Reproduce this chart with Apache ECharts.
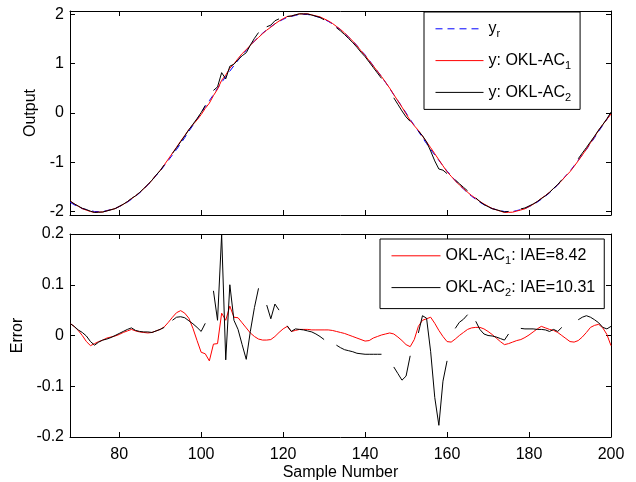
<!DOCTYPE html>
<html>
<head>
<meta charset="utf-8">
<script src="https://cdn.jsdelivr.net/npm/echarts@6/dist/echarts.min.js"></script>
<style>
html,body{margin:0;padding:0;background:#fff}
#chart{width:636px;height:482px}
</style>
</head>
<body>
<div id="chart"></div>
<script>
// sample range shown on both plots
const firstSample = 68
const lastSample = 200
const xTicks = [80, 100, 120, 140, 160, 180, 200]
const outTicks = [-2, -1, 0, 1, 2]
const errTicks = [-0.2, -0.1, 0, 0.1, 0.2]

// reference output y_r, one value per sample (68..200)
const yr = [
  -1.81,-1.86,-1.90,-1.94,-1.96,-1.98,-2.00,-2.00,-2.00,-1.98,
  -1.96,-1.94,-1.90,-1.86,-1.81,-1.75,-1.69,-1.62,-1.54,-1.46,
  -1.37,-1.27,-1.18,-1.07,-0.96,-0.85,-0.74,-0.62,-0.50,-0.37,
  -0.25,-0.13,0.00,0.13,0.25,0.37,0.50,0.62,0.74,0.85,
  0.96,1.07,1.18,1.27,1.37,1.46,1.54,1.62,1.69,1.75,
  1.81,1.86,1.90,1.94,1.96,1.98,2.00,2.00,2.00,1.98,
  1.96,1.94,1.90,1.86,1.81,1.75,1.69,1.62,1.54,1.46,
  1.37,1.27,1.18,1.07,0.96,0.85,0.74,0.62,0.50,0.37,
  0.25,0.13,0.00,-0.13,-0.25,-0.37,-0.50,-0.62,-0.74,-0.85,
  -0.96,-1.07,-1.18,-1.27,-1.37,-1.46,-1.54,-1.62,-1.69,-1.75,
  -1.81,-1.86,-1.90,-1.94,-1.96,-1.98,-2.00,-2.00,-2.00,-1.98,
  -1.96,-1.94,-1.90,-1.86,-1.81,-1.75,-1.69,-1.62,-1.54,-1.46,
  -1.37,-1.27,-1.18,-1.07,-0.96,-0.85,-0.74,-0.62,-0.50,-0.37,
  -0.25,-0.13,0.00
]

// tracking error of OKL-AC1
const e1 = [
  0.024,0.018,0.010,0.000,-0.012,-0.020,-0.016,-0.012,-0.009,-0.005,
  -0.003,-0.001,0.002,0.006,0.009,0.012,0.009,0.007,0.006,0.005,
  0.006,0.009,0.012,0.017,0.026,0.036,0.045,0.049,0.044,0.034,
  0.014,-0.010,-0.033,-0.036,-0.050,-0.017,-0.016,0.044,0.030,0.058,
  0.036,0.035,0.025,0.015,0.005,-0.002,-0.007,-0.009,-0.009,-0.008,
  -0.002,0.006,0.013,0.018,0.008,0.010,0.012,0.012,0.012,0.011,
  0.011,0.011,0.011,0.011,0.010,0.008,0.006,0.004,0.001,-0.002,
  -0.005,-0.008,-0.011,-0.010,-0.005,-0.002,0.001,0.003,0.005,0.003,
  -0.003,-0.010,-0.018,-0.022,-0.008,0.018,0.030,0.033,0.036,0.024,
  0.010,-0.002,-0.012,-0.013,-0.007,0.000,0.006,0.012,0.015,0.016,
  0.016,0.013,0.008,0.002,-0.005,-0.012,-0.018,-0.016,-0.013,-0.010,
  -0.008,-0.004,0.001,0.007,0.013,0.018,0.015,0.012,0.010,0.006,
  0.000,-0.006,-0.012,-0.013,-0.010,-0.003,0.006,0.016,0.020,0.022,
  0.015,0.002,-0.020
]

// tracking error of OKL-AC2 (null = missing sample, line breaks there)
const e2 = [
  0.024,0.018,0.011,0.006,-0.001,-0.012,-0.019,-0.013,-0.009,-0.007,
  -0.004,0.000,0.004,0.008,0.012,0.015,0.010,0.008,0.007,0.007,
  0.006,0.009,0.012,0.016,null,0.030,0.036,0.037,0.035,0.029,
  0.023,0.016,0.008,0.024,null,0.088,0.030,0.199,-0.048,0.100,
  0.030,0.012,-0.018,-0.047,0.008,0.055,0.093,null,0.060,0.033,
  0.062,0.050,null,0.019,0.008,0.013,0.012,0.011,0.009,0.007,
  0.003,-0.002,-0.008,null,null,-0.019,-0.024,-0.028,-0.030,-0.032,
  -0.035,-0.036,-0.037,-0.037,-0.037,-0.037,-0.037,null,null,-0.062,
  -0.075,-0.088,-0.080,-0.040,null,0.005,0.039,0.034,-0.032,-0.122,
  -0.177,-0.090,-0.050,null,0.014,0.026,0.032,0.041,null,0.028,
  0.012,0.003,0.000,-0.001,-0.003,-0.006,-0.009,0.003,null,null,
  0.014,0.013,0.013,0.013,0.012,0.012,0.011,0.008,0.012,0.008,
  0.016,null,null,null,0.031,0.036,0.039,0.036,0.031,0.025,
  0.016,0.013,0.018
]

const font = 'Liberation Sans, Arial, Helvetica, sans-serif'

// pairs [sample, value]; missing values stay gaps
const pairs = (vals) => vals.map((v, i) => [firstSample + i, v == null ? '-' : v])
const plus = (a, b) => a.map((v, i) => (b[i] == null ? null : +(v + b[i]).toFixed(3)))

// turn "AC_1" into a rich-text subscript
const legendText = (name) => '{n|' + name.replace(/_(\w)/, '}{s|$1}{n|') + '}'

const xAxisFor = (grid, pos, labels) => ({
  type: 'value', gridIndex: grid, position: pos, min: firstSample, max: lastSample,
  axisLine: {show: true, onZero: false, lineStyle: {color: '#000', width: 1}},
  axisTick: {show: true, inside: true, length: 5, customValues: xTicks, lineStyle: {color: '#000'}},
  axisLabel: {show: labels, customValues: xTicks, margin: 10, color: '#000', fontSize: 16, fontFamily: font},
  splitLine: {show: false}
})
const yAxisFor = (grid, pos, labels, min, max, ticks) => ({
  type: 'value', gridIndex: grid, position: pos, min: min, max: max,
  axisLine: {show: true, onZero: false, lineStyle: {color: '#000', width: 1}},
  axisTick: {show: true, inside: true, length: 5, customValues: ticks, lineStyle: {color: '#000'}},
  axisLabel: {show: labels, customValues: ticks, margin: 6, color: '#000', fontSize: 16, fontFamily: font,
    formatter: (v) => String(+v.toFixed(2))},
  splitLine: {show: false}
})

const legendBase = {
  orient: 'vertical',
  backgroundColor: '#fff',
  borderColor: '#000',
  borderWidth: 1,
  borderRadius: 0,
  itemHeight: 22,
  itemGap: 12,
  itemStyle: {opacity: 0},
  lineStyle: {width: 1},
  textStyle: {
    color: '#000', fontSize: 16, fontFamily: font,
    rich: {
      n: {fontSize: 16, fontFamily: font, color: '#000', lineHeight: 22},
      s: {fontSize: 11, fontFamily: font, color: '#000', lineHeight: 12, verticalAlign: 'bottom'}
    }
  },
  formatter: legendText
}

const lineSeries = (name, x, y, data, color, dashed, z) => ({
  name: name, type: 'line', xAxisIndex: x, yAxisIndex: y, data: data,
  symbol: 'none', z: z, silent: true,
  lineStyle: {color: color, width: 1, type: dashed ? [7, 5] : 'solid'},
  itemStyle: {color: color}
})

const chart = echarts.init(document.getElementById('chart'))
chart.setOption({
  animation: false,
  backgroundColor: '#fff',
  grid: [
    {left: 70, top: 11, width: 541, height: 204},
    {left: 70, top: 234, width: 541, height: 203}
  ],
  xAxis: [
    xAxisFor(0, 'bottom', false),
    xAxisFor(0, 'top', false),
    Object.assign(xAxisFor(1, 'bottom', true), {
      name: 'Sample Number', nameLocation: 'middle', nameGap: 28,
      nameTextStyle: {color: '#000', fontSize: 16, fontFamily: font, verticalAlign: 'top'}
    }),
    xAxisFor(1, 'top', false)
  ],
  yAxis: [
    Object.assign(yAxisFor(0, 'left', true, -2.07, 2.07, outTicks), {
      name: 'Output', nameLocation: 'middle', nameGap: 28,
      nameTextStyle: {color: '#000', fontSize: 16, fontFamily: font}
    }),
    yAxisFor(0, 'right', false, -2.07, 2.07, outTicks),
    Object.assign(yAxisFor(1, 'left', true, -0.2, 0.2, errTicks), {
      name: 'Error', nameLocation: 'middle', nameGap: 42,
      nameTextStyle: {color: '#000', fontSize: 16, fontFamily: font}
    }),
    yAxisFor(1, 'right', false, -0.2, 0.2, errTicks)
  ],
  legend: [
    Object.assign({}, legendBase, {
      left: 424, top: 12, itemWidth: 48, padding: [8, 9, 6, 11],
      data: ['y_r', 'y: OKL-AC_1', 'y: OKL-AC_2']
    }),
    Object.assign({}, legendBase, {
      left: 380, top: 239, itemWidth: 49, padding: [8, 9, 10, 11],
      data: ['OKL-AC_1: IAE=8.42', 'OKL-AC_2: IAE=10.31']
    })
  ],
  series: [
    lineSeries('y_r', 0, 0, pairs(yr), '#0000ff', true, 2),
    lineSeries('y: OKL-AC_1', 0, 0, pairs(plus(yr, e1)), '#ff0000', false, 3),
    lineSeries('y: OKL-AC_2', 0, 0, pairs(plus(yr, e2)), '#000000', false, 4),
    lineSeries('OKL-AC_1: IAE=8.42', 2, 2, pairs(e1), '#ff0000', false, 3),
    lineSeries('OKL-AC_2: IAE=10.31', 2, 2, pairs(e2), '#000000', false, 4)
  ]
})
</script>
</body>
</html>
